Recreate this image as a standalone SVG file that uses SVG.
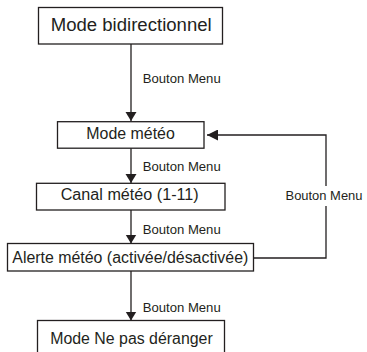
<svg xmlns="http://www.w3.org/2000/svg" width="367" height="352" viewBox="0 0 367 352">
<style>
.box{fill:#fff;stroke:#231f20;stroke-width:1.3}
.t{font-family:"Liberation Sans",Arial,sans-serif;fill:#231f20;text-anchor:start}
.big{font-size:18px}
.mid{font-size:16px}
.lbl{font-size:13px}
.ln{fill:none;stroke:#231f20;stroke-width:1.3}
</style>
<defs>
<marker id="ah" markerUnits="userSpaceOnUse" markerWidth="12" markerHeight="11" refX="11" refY="5.5" orient="auto">
<path d="M0,0 L11,5.5 L0,11 z" fill="#231f20"/>
</marker>
<marker id="av" markerUnits="userSpaceOnUse" markerWidth="10" markerHeight="12" refX="9" refY="6" orient="auto">
<path d="M0,0.5 L9,6 L0,11.5 z" fill="#231f20"/>
</marker>
</defs>
<rect width="367" height="352" fill="#fff"/>
<g id="connectors">
<line class="ln" x1="131" y1="44" x2="131" y2="121" marker-end="url(#av)"/>
<line class="ln" x1="131" y1="148" x2="131" y2="183" marker-end="url(#av)"/>
<line class="ln" x1="131" y1="210" x2="131" y2="243.5" marker-end="url(#av)"/>
<line class="ln" x1="131" y1="271" x2="131" y2="320.5" marker-end="url(#av)"/>
<polyline class="ln" points="253.5,258 326,258 326,135 207,135" marker-end="url(#ah)"/>
<rect x="283" y="186" width="84" height="20" fill="#fff"/>
<text class="t lbl" x="142.7" y="83" textLength="78" lengthAdjust="spacingAndGlyphs">Bouton Menu</text>
<text class="t lbl" x="142.7" y="170.5" textLength="78" lengthAdjust="spacingAndGlyphs">Bouton Menu</text>
<text class="t lbl" x="142.7" y="233.5" textLength="78" lengthAdjust="spacingAndGlyphs">Bouton Menu</text>
<text class="t lbl" x="142.7" y="311.5" textLength="78" lengthAdjust="spacingAndGlyphs">Bouton Menu</text>
<text class="t lbl" x="285.5" y="199.5" textLength="77" lengthAdjust="spacingAndGlyphs">Bouton Menu</text>
</g>
<g id="n1">
<rect class="box" x="38.5" y="7.5" width="184" height="36.5"/>
<text class="t big" x="50.7" y="30.5" textLength="161" lengthAdjust="spacingAndGlyphs">Mode bidirectionnel</text>
</g>
<g id="n2">
<rect class="box" x="57.5" y="121.7" width="146.5" height="26.5"/>
<text class="t mid" x="86.3" y="138.7" textLength="88.5" lengthAdjust="spacingAndGlyphs">Mode météo</text>
</g>
<g id="n3">
<rect class="box" x="36.5" y="183.3" width="188.5" height="26.7"/>
<text class="t mid" x="60.7" y="200" textLength="138" lengthAdjust="spacingAndGlyphs">Canal météo (1-11)</text>
</g>
<g id="n4">
<rect class="box" x="7.5" y="243.5" width="246" height="27.5"/>
<text class="t mid" x="12.3" y="262.5" textLength="236" lengthAdjust="spacingAndGlyphs">Alerte météo (activée/désactivée)</text>
</g>
<g id="n5">
<rect class="box" x="37.5" y="320.5" width="187" height="40"/>
<text class="t mid" x="50.2" y="344" textLength="162.5" lengthAdjust="spacingAndGlyphs">Mode Ne pas déranger</text>
</g>
</svg>
